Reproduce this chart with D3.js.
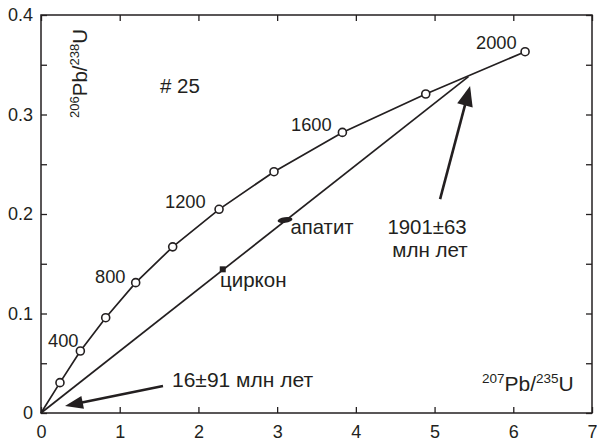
<!DOCTYPE html>
<html><head><meta charset="utf-8">
<script src="https://cdn.jsdelivr.net/npm/d3@7"></script>
<style>
html,body{margin:0;padding:0;background:#fff;}
text{font-family:"Liberation Sans",Arial,sans-serif;fill:#231f20;}
</style></head>
<body><svg id="c" width="597" height="441"></svg>
<script>
// Concordia points (age in Ma, 207Pb/235U, 206Pb/238U)
const concAges = [0, 200, 400, 600, 800, 1000, 1200, 1400, 1600, 1800, 2000];
const concX = [0, 0.241, 0.50, 0.822, 1.203, 1.673, 2.262, 2.96, 3.829, 4.888, 6.15];
const concY = [0, 0.0305, 0.0623, 0.0958, 0.131, 0.167, 0.2047, 0.2425, 0.282, 0.3206, 0.3631];
const ageLabels = ["400", "800", "1200", "1600", "2000"];
// Discordia from lower to upper intercept
const discX = [0, 5.43];
const discY = [0, 0.338];
// Samples
const sampleNames = ["циркон", "апатит"];
const sampleX = [2.309, 3.10];
const sampleY = [0.1444, 0.194];
// Axis ticks
const xTicks = [0, 1, 2, 3, 4, 5, 6, 7];
const yTicks = [0, 0.05, 0.1, 0.15, 0.2, 0.25, 0.3, 0.35, 0.4];
const yLabels = ["0", "", "0.1", "", "0.2", "", "0.3", "", "0.4"];

const svg = d3.select("#c");
const L = 41, R = 592, T = 15, B = 413;
const x = d3.scaleLinear().domain([0, 7]).range([L, R]);
const y = d3.scaleLinear().domain([0, 0.4]).range([B, T]);
const ink = "#231f20";

// frame
svg.append("rect").attr("x", L).attr("y", T).attr("width", R - L).attr("height", B - T)
  .attr("fill", "none").attr("stroke", ink).attr("stroke-width", 1.5);

// axes with inward ticks
const tl = 6;
svg.append("g").attr("transform", `translate(0,${B})`)
  .call(d3.axisBottom(x).tickValues(xTicks).tickSizeInner(-tl).tickSizeOuter(0).tickPadding(12).tickFormat(d3.format("d")))
  .call(g => g.select(".domain").remove());
svg.append("g").attr("transform", `translate(0,${T})`)
  .call(d3.axisTop(x).tickValues(xTicks).tickSizeInner(-tl).tickSizeOuter(0).tickFormat(""))
  .call(g => g.select(".domain").remove());
svg.append("g").attr("transform", `translate(${L},0)`)
  .call(d3.axisLeft(y).tickValues(yTicks).tickSizeInner(-tl).tickSizeOuter(0).tickPadding(8).tickFormat((d, i) => yLabels[i]))
  .call(g => g.select(".domain").remove());
svg.append("g").attr("transform", `translate(${R},0)`)
  .call(d3.axisRight(y).tickValues(yTicks).tickSizeInner(-tl).tickSizeOuter(0).tickFormat(""))
  .call(g => g.select(".domain").remove());
svg.selectAll(".tick line").attr("stroke", ink).attr("stroke-width", 1.3);
svg.selectAll(".tick text").attr("font-size", 18).attr("fill", ink)
  .style("font-family", "'Liberation Sans',Arial,sans-serif");

// concordia
const conc = concX.map((d, i) => [d, concY[i], concAges[i]]);
svg.append("path").datum(conc)
  .attr("d", d3.line().x(d => x(d[0])).y(d => y(d[1])))
  .attr("fill", "none").attr("stroke", ink).attr("stroke-width", 1.7);
// discordia
svg.append("path").datum(discX.map((d, i) => [d, discY[i]]))
  .attr("d", d3.line().x(d => x(d[0])).y(d => y(d[1])))
  .attr("fill", "none").attr("stroke", ink).attr("stroke-width", 1.7);

svg.selectAll("circle.c").data(conc.filter(d => d[2] > 0)).enter().append("circle")
  .attr("cx", d => x(d[0])).attr("cy", d => y(d[1])).attr("r", 4)
  .attr("fill", "#fff").attr("stroke", ink).attr("stroke-width", 1.6);

// samples
svg.append("rect").attr("x", x(sampleX[0]) - 3).attr("y", y(sampleY[0]) - 3)
  .attr("width", 6).attr("height", 6).attr("fill", ink);
svg.append("ellipse").attr("cx", x(sampleX[1])).attr("cy", y(sampleY[1]))
  .attr("rx", 7.5).attr("ry", 2.8).attr("fill", ink)
  .attr("transform", `rotate(-8,${x(sampleX[1])},${y(sampleY[1])})`);

// text helper
function txt(px, py, s, anchor, size) {
  return svg.append("text").attr("x", px).attr("y", py).attr("font-size", size || 18)
    .attr("text-anchor", anchor || "start").text(s);
}
// age labels
const agePos = [[48, 347], [95, 283], [165, 208], [291, 131], [476, 49]];
ageLabels.forEach((a, k) => txt(agePos[k][0], agePos[k][1], a, "start", 18.3));

txt(160, 93, "# 25", "start", 20.5);
txt(220, 287, sampleNames[0], "start", 20.5);
txt(290.5, 234, sampleNames[1], "start", 20.3);
txt(427, 234, "1901±63", "middle", 20.4);
txt(430, 257, "млн лет", "middle", 20.6);
txt(172, 387, "16±91 млн лет", "start", 21);

// axis titles
const xt = svg.append("text").attr("x", 482).attr("y", 391).attr("font-size", 21);
xt.append("tspan").attr("font-size", 13.5).attr("dy", -8).text("207");
xt.append("tspan").attr("dy", 8).text("Pb/");
xt.append("tspan").attr("font-size", 13.5).attr("dy", -8).text("235");
xt.append("tspan").attr("dy", 8).text("U");

const yt = svg.append("text").attr("transform", "translate(87,118) rotate(-90)").attr("font-size", 20.5);
yt.append("tspan").attr("font-size", 13).attr("dy", -8).text("206");
yt.append("tspan").attr("dy", 8).text("Pb/");
yt.append("tspan").attr("font-size", 13).attr("dy", -8).text("238");
yt.append("tspan").attr("dy", 8).text("U");

// arrows (data coordinates)
const arrows = [
  {from: [1.55, 0.0271], to: [0.305, 0.007], len: 18, hw: 6.5},
  {from: [5.07, 0.215], to: [5.451, 0.3286], len: 20, hw: 8}
];
arrows.forEach(a => {
  const x1 = x(a.from[0]), y1 = y(a.from[1]), x2 = x(a.to[0]), y2 = y(a.to[1]);
  const dx = x2 - x1, dy = y2 - y1, d = Math.hypot(dx, dy), ux = dx / d, uy = dy / d;
  const bx = x2 - ux * a.len, by = y2 - uy * a.len;
  svg.append("line").attr("x1", x1).attr("y1", y1).attr("x2", bx + ux * 2).attr("y2", by + uy * 2)
    .attr("stroke", ink).attr("stroke-width", 2.6);
  svg.append("path").attr("d", `M${x2},${y2}L${bx - uy * a.hw},${by + ux * a.hw}L${bx + uy * a.hw},${by - ux * a.hw}Z`)
    .attr("fill", ink);
});
</script></body></html>
